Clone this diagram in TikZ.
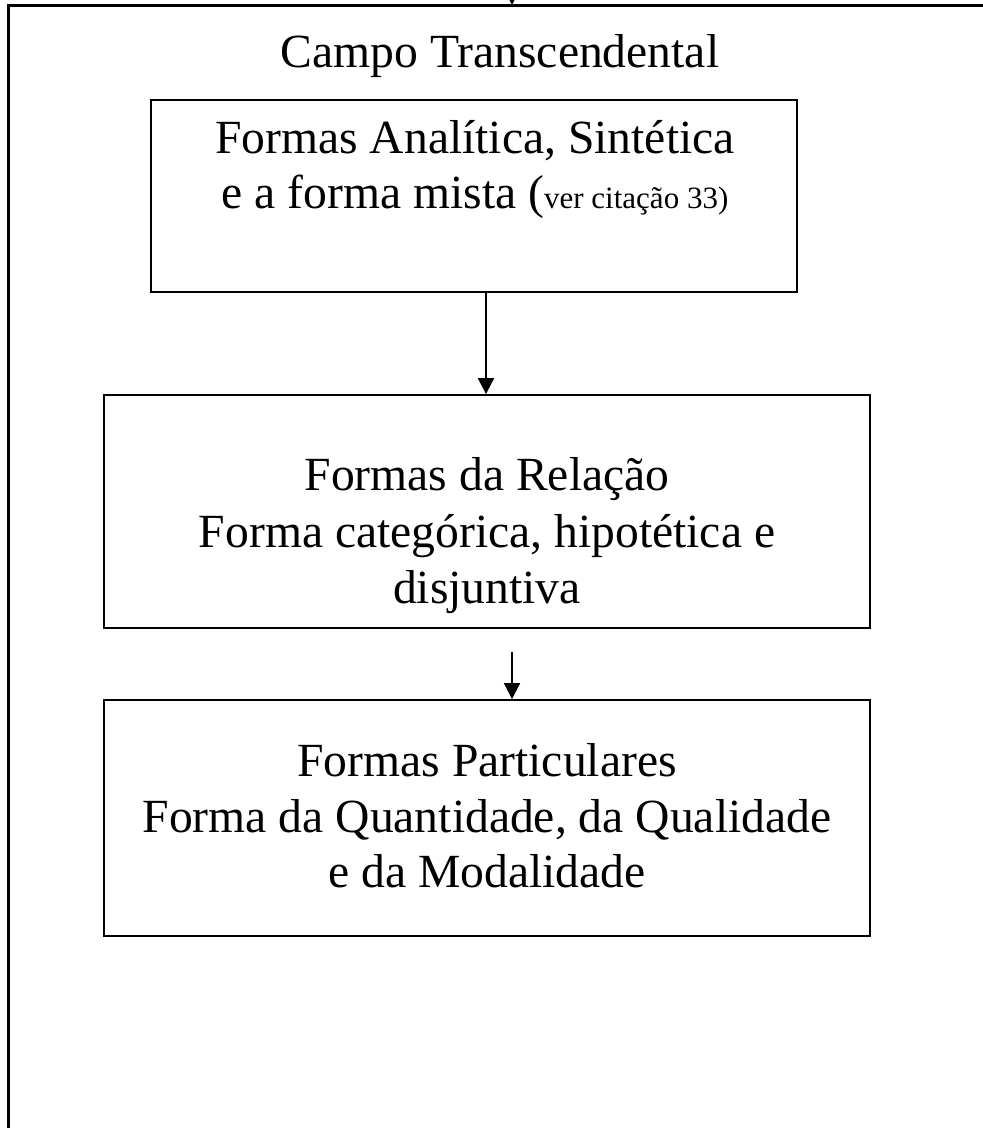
\documentclass[tikz,border=0pt]{standalone}
\usepackage{fontspec}
\setmainfont{Liberation Serif}
\usetikzlibrary{arrows.meta}
\tikzset{
  frame/.style={line width=3pt},
  boxnode/.style={draw, line width=1.8pt, inner sep=0pt},
  txt/.style={anchor=base, inner sep=0pt, font=\fontsize{47.6}{55}\selectfont},
  conn/.style={line width=1.8pt, -{Triangle[width=16pt,length=16pt]}},
}
\begin{document}
\begin{tikzpicture}[x=1pt,y=-1pt]
\useasboundingbox (0,0) rectangle (983,1128);
\clip (0,0) rectangle (983,1128);
% outer frame (extends beyond right and bottom edges)
\draw[frame] (8,1200) -- (8,5) -- (1050,5);
\coordinate (topin) at (512,-40);
\coordinate (toptip) at (512,5);
\draw[conn] (topin) -- (toptip);
\node[txt] (campo) at (500,67) {Campo Transcendental};
% boxes
\node[boxnode, minimum width=646pt, minimum height=192pt] (b1) at (474,196) {};
\node[boxnode, minimum width=766pt, minimum height=233pt] (b2) at (487,511.5) {};
\node[boxnode, minimum width=766pt, minimum height=236pt] (b3) at (487,818) {};
% texts
\node[txt] (t11) at (475,153) {Formas Analítica, Sintética};
\node[txt] (t12) at (475,208) {e a forma mista ({\fontsize{31}{36}\selectfont ver citação 33)}};
\node[txt] (t21) at (487,490) {Formas da Relação};
\node[txt] (t22) at (487,547) {Forma categórica, hipotética e};
\node[txt] (t23) at (487,603) {disjuntiva};
\node[txt] (t31) at (487,776) {Formas Particulares};
\node[txt] (t32) at (487,832) {Forma da Quantidade, da Qualidade};
\node[txt] (t33) at (487,887) {e da Modalidade};
% connectors
\draw[conn] (b1.south -| 486,0) -- (b2.north -| 486,0);
\coordinate (a2s) at (512,652);
\draw[conn] (a2s) -- (b3.north -| a2s);
\end{tikzpicture}
\end{document}
